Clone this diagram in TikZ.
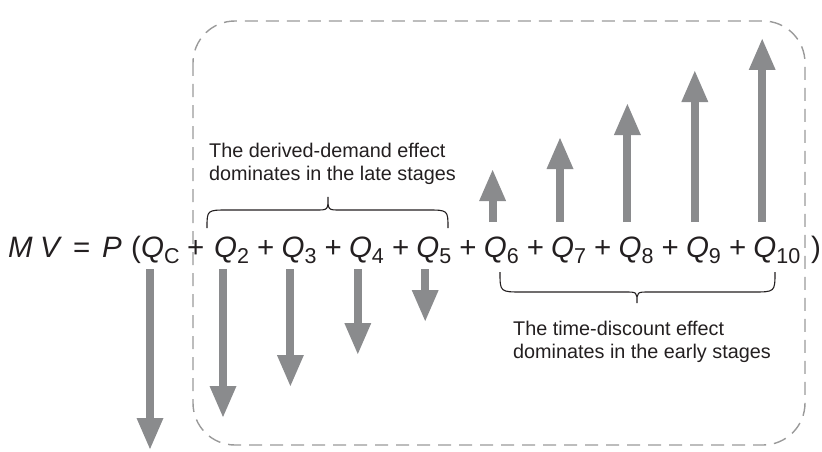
\documentclass[tikz,border=0pt]{standalone}
\usepackage{fontspec}
\setmainfont{Liberation Sans}
\usetikzlibrary{arrows.meta}
\definecolor{arrowgray}{HTML}{8A8B8D}
\definecolor{boxgray}{HTML}{9A9A9A}
\definecolor{ink}{HTML}{231F20}
\newcommand{\qsub}[1]{\raisebox{-6pt}{\fontsize{21.5}{21.5}\selectfont #1}}
\begin{document}
\begin{tikzpicture}[x=1pt,y=-1pt,
  eq/.style={inner sep=0pt, anchor=base west, text=ink, font=\fontsize{29.5}{29.5}\selectfont},
  lab/.style={inner sep=0pt, anchor=base west, text=ink, font=\fontsize{19.8}{23}\selectfont},
  arr/.style={line width=8pt, arrowgray, -{Triangle[length=31pt,width=27pt,line width=0pt]}},
  brace/.style={line width=1.1pt, ink},
  dashbox/.style={boxgray, line width=1.4pt, dash pattern=on 13pt off 8pt, rounded corners=42pt}]
\useasboundingbox (0,0) rectangle (822,452);
% dashed frame
\draw[dashbox] (193,21) rectangle (805,445);
% equation
\node[eq] (M) at (8,257) {\itshape M};
\node[eq] (V) at (40,257) {\itshape V};
\node[eq] (eqs) at (73,257) {=};
\node[eq] (P) at (102,257) {\itshape P};
\node[eq] (lp) at (131,257) {(};
\node[eq] (Qc) at (141,257) {\itshape Q\/\upshape\qsub{C}};
\node[eq] (pc) at (187,257) {+};
\foreach \n/\x in {2/215,3/282.4,4/349.8,5/417.2,6/484.6,7/552,8/619.4,9/686.8}{
  \node[eq] (Q\n) at (\x-1,257) {\itshape Q\/\upshape\qsub{\n}};
  \node[eq] (p\n) at (\x+42,257) {+};
}
\node[eq] (Q10) at (753.2,257) {\itshape Q\/\upshape\qsub{10}};
\node[eq] (rp) at (811,257) {)};
% down arrows
\foreach \n/\x/\t in {c/150/449,2/223/417,3/290.4/386,4/357.8/354,5/425.2/321}{
  \coordinate (s\n) at (\x,269);
  \coordinate (e\n) at (\x,\t);
  \draw[arr] (s\n) -- (e\n);
}
% up arrows
\foreach \n/\x/\t in {6/492.6/170,7/560/138,8/627.4/104,9/694.8/71,10/762.2/39}{
  \coordinate (s\n) at (\x,222);
  \coordinate (e\n) at (\x,\t);
  \draw[arr] (s\n) -- (e\n);
}
% labels
\node[lab] (t1) at (209,157) {The derived-demand effect};
\node[lab] (t2) at (209,180) {dominates in the late stages};
\node[lab] (b1) at (513,335) {The time-discount effect};
\node[lab] (b2) at (513,358) {dominates in the early stages};
% braces
\draw[brace] (207,228) .. controls (207,210) .. (228,210) -- (316,210)
  .. controls (328,210) .. (328,197) .. controls (328,210) .. (340,210)
  -- (427,210) .. controls (448,210) .. (448,228);
\draw[brace] (500,272) .. controls (500,292) .. (522,292) -- (625,292)
  .. controls (637,292) .. (637,303) .. controls (637,292) .. (649,292)
  -- (753,292) .. controls (775,292) .. (775,272);
\end{tikzpicture}
\end{document}
